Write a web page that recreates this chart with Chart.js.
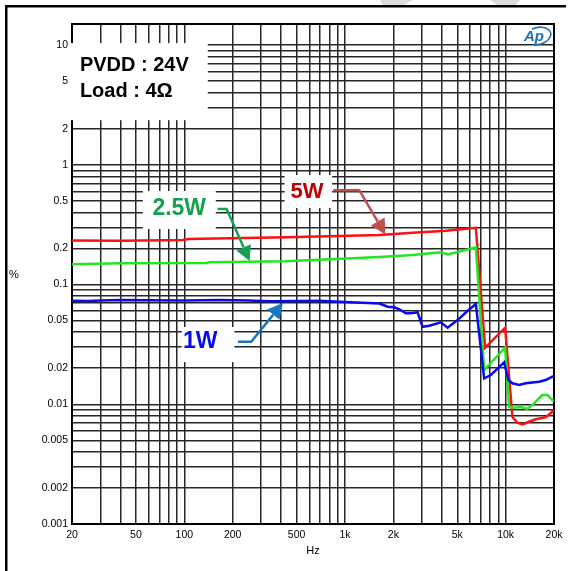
<!DOCTYPE html>
<html>
<head>
<meta charset="utf-8">
<script src="https://cdn.jsdelivr.net/npm/chart.js@4.4.1/dist/chart.umd.min.js"></script>
<style>
    html, body { margin: 0; padding: 0; background: #fff; }
    #wrap { position: relative; width: 568px; height: 571px; }
</style>
</head>
<body>
<div id="wrap"><canvas id="thdChart" width="568" height="571"></canvas></div>
<script>
// THD+N (%) vs frequency (Hz)
const freq1W = [20, 25, 30, 40, 60, 100, 166, 250, 340, 500, 694, 1000, 1637, 1844, 2029, 2180, 2398, 2577, 2832, 3041, 3346, 3956, 4350, 5017, 5787, 6528, 7350, 8090, 9784, 10400, 11015, 12124, 13344, 16137, 17763, 19518, 20000];
const thd1W = [0.0732, 0.0728, 0.0736, 0.0742, 0.0738, 0.0737, 0.0742, 0.0736, 0.0724, 0.0730, 0.0732, 0.0715, 0.0694, 0.0653, 0.0645, 0.0621, 0.0575, 0.0575, 0.0586, 0.0444, 0.0453, 0.0483, 0.0436, 0.0505, 0.0601, 0.0687, 0.01647, 0.01755, 0.0224, 0.01594, 0.01496, 0.01448, 0.01496, 0.01543, 0.01594, 0.01699, 0.0172];

const freq2W5 = [20, 40, 137, 144, 431, 1637, 2636, 3956, 4350, 6528, 7350, 9929, 10508, 11288, 12424, 13656, 15026, 16918, 18176, 19518, 20000];
const thd2W5 = [0.1475, 0.1503, 0.1512, 0.1532, 0.1562, 0.1697, 0.1763, 0.1857, 0.1787, 0.2045, 0.01932, 0.02967, 0.00954, 0.00936, 0.00949, 0.00913, 0.01018, 0.01195, 0.01195, 0.01085, 0.0106];

const freq5W = [20, 40, 98, 106, 431, 1637, 2636, 4250, 6528, 7453, 9929, 11015, 11832, 12710, 13990, 15394, 17763, 19518, 20000];
const thd5W = [0.233, 0.232, 0.2353, 0.2399, 0.2479, 0.259, 0.2707, 0.2813, 0.298, 0.02967, 0.0436, 0.00787, 0.00701, 0.0068, 0.00715, 0.00749, 0.00778, 0.00866, 0.0089];

const xLabelVals = [20, 50, 100, 200, 500, 1000, 2000, 5000, 10000, 20000];
const xLabelText = ['20', '50', '100', '200', '500', '1k', '2k', '5k', '10k', '20k'];
const yLabelVals = [0.001, 0.002, 0.005, 0.01, 0.02, 0.05, 0.1, 0.2, 0.5, 1, 2, 5, 10];
const yLabelText = ['0.001', '0.002', '0.005', '0.01', '0.02', '0.05', '0.1', '0.2', '0.5', '1', '2', '5', '10'];

// grid lines on every 1..9 step of each decade
const xGrid = [];
for (let e = 1; e <= 3; e++) {
    for (let m = (e === 1 ? 2 : 1); m <= 9; m++) xGrid.push(m * Math.pow(10, e));
}
xGrid.push(10000, 20000);
const yGrid = [];
for (let e = -3; e <= 0; e++) {
    for (let m = 1; m <= 9; m++) yGrid.push(+(m * Math.pow(10, e)).toPrecision(6));
}
yGrid.push(10);

const FONT = '"Liberation Sans", Arial, sans-serif';

// label boxes, texts and arrows (data coordinates: Hz, %)
const notes = [
    { box: [19.7, 140, 10.4, 2.36], color: '#000', align: 'left', size: 20,
      texts: [['PVDD : 24V', 22.4, 6.10], ['Load : 4Ω', 22.4, 3.70]] },
    { box: [55.2, 157, 0.604, 0.291], color: '#14a050', align: 'center', size: 23,
      texts: [['2.5W', 93, 0.380]] },
    { box: [421, 832, 0.821, 0.435], color: '#c00000', align: 'center', size: 22,
      texts: [['5W', 580, 0.527]] },
    { box: [96.4, 205, 0.0442, 0.0225], color: '#0a0aee', align: 'center', size: 23,
      texts: [['1W', 125.7, 0.0293]] }
];
const arrows = [
    { color: '#14a050', pts: [[161.4, 0.427], [183.5, 0.427], [255, 0.157]] },
    { color: '#c0504d', pts: [[845, 0.612], [1230, 0.612], [1784, 0.262]] },
    { color: '#1c75bc', pts: [[216, 0.0333], [261, 0.0333], [410, 0.0701]] }
];

function toPoints(xs, ys) {
    return xs.map((x, i) => ({ x: x, y: ys[i] }));
}

function pix(chart, f, v) {
    return [chart.scales.x.getPixelForValue(f), chart.scales.y.getPixelForValue(v)];
}

function drawArrow(ctx, pts, color) {
    const n = pts.length;
    const [tx, ty] = pts[n - 1];
    const [sx, sy] = pts[n - 2];
    const ang = Math.atan2(ty - sy, tx - sx);
    const head = 15, half = 8;
    const bx = tx - head * Math.cos(ang), by = ty - head * Math.sin(ang);
    ctx.save();
    ctx.strokeStyle = color;
    ctx.fillStyle = color;
    ctx.lineWidth = 2.5;
    ctx.lineJoin = 'round';
    ctx.beginPath();
    ctx.moveTo(pts[0][0], pts[0][1]);
    for (let i = 1; i < n - 1; i++) ctx.lineTo(pts[i][0], pts[i][1]);
    ctx.lineTo(bx, by);
    ctx.stroke();
    ctx.beginPath();
    ctx.moveTo(tx, ty);
    ctx.lineTo(bx + half * Math.sin(ang), by - half * Math.cos(ang));
    ctx.lineTo(bx - half * Math.sin(ang), by + half * Math.cos(ang));
    ctx.closePath();
    ctx.fill();
    ctx.restore();
}

const decorPlugin = {
    id: 'decor',
    beforeDatasetsDraw(chart) {
        const { ctx, chartArea: a } = chart;
        ctx.save();
        ctx.strokeStyle = '#000';
        ctx.lineWidth = 2;
        ctx.strokeRect(a.left, a.top, a.right - a.left, a.bottom - a.top);
        ctx.restore();
    },
    afterDatasetsDraw(chart) {
        const ctx = chart.ctx;
        notes.forEach(n => {
            const [x1, y1] = pix(chart, n.box[0], n.box[2]);
            const [x2, y2] = pix(chart, n.box[1], n.box[3]);
            ctx.fillStyle = '#fff';
            ctx.fillRect(x1, y1, x2 - x1, y2 - y1);
            ctx.fillStyle = n.color;
            ctx.font = 'bold ' + n.size + 'px ' + FONT;
            ctx.textAlign = n.align;
            ctx.textBaseline = 'alphabetic';
            n.texts.forEach(t => {
                const [tx, ty] = pix(chart, t[1], t[2]);
                ctx.fillText(t[0], tx, ty);
            });
        });
        arrows.forEach(ar => {
            drawArrow(ctx, ar.pts.map(p => pix(chart, p[0], p[1])), ar.color);
        });
    },
    afterDraw(chart) {
        const { ctx, chartArea: a } = chart;
        ctx.save();
        // axis names
        ctx.fillStyle = '#000';
        ctx.font = '11px ' + FONT;
        ctx.textAlign = 'center';
        ctx.textBaseline = 'middle';
        ctx.fillText('%', 14, (a.top + a.bottom) / 2 + 1);
        ctx.fillText('Hz', (a.left + a.right) / 2, 551);

        // faint watermark pieces at the top edge
        ctx.fillStyle = '#dcdcdc';
        ctx.beginPath();
        ctx.moveTo(380, 0); ctx.lineTo(413, 0); ctx.lineTo(403, 6); ctx.lineTo(383, 6);
        ctx.closePath(); ctx.fill();
        ctx.beginPath();
        ctx.moveTo(490, 0); ctx.lineTo(520, 0); ctx.lineTo(514, 6); ctx.lineTo(498, 6);
        ctx.closePath(); ctx.fill();

        // outer frame (top and left)
        ctx.fillStyle = '#000';
        ctx.fillRect(5, 5, 561, 2.5);
        ctx.fillRect(5, 5, 2.5, 566);

        // Ap logo
        ctx.fillStyle = '#1f6fb2';
        ctx.strokeStyle = '#1f6fb2';
        ctx.font = 'italic bold 15px ' + FONT;
        ctx.textAlign = 'left';
        ctx.textBaseline = 'alphabetic';
        ctx.fillText('Ap', 524, 41);
        ctx.lineWidth = 1.6;
        ctx.beginPath();
        ctx.ellipse(538, 36, 13, 8.5, -0.25, -1.9, 2.1);
        ctx.stroke();
        ctx.restore();
    }
};

const ctx = document.getElementById('thdChart').getContext('2d');
const thdChart = new Chart(ctx, {
    type: 'line',
    data: {
        datasets: [
            { label: '1W', data: toPoints(freq1W, thd1W), borderColor: '#0a0aee', borderWidth: 2.5 },
            { label: '2.5W', data: toPoints(freq2W5, thd2W5), borderColor: '#22e622', borderWidth: 2.5 },
            { label: '5W', data: toPoints(freq5W, thd5W), borderColor: '#ff1010', borderWidth: 2.5 }
        ]
    },
    options: {
        responsive: false,
        animation: false,
        devicePixelRatio: 1,
        layout: { padding: { left: 0, right: 14, top: 24, bottom: 0 } },
        elements: {
            point: { radius: 0 },
            line: { tension: 0, fill: false }
        },
        plugins: {
            legend: { display: false },
            tooltip: { enabled: false }
        },
        scales: {
            x: {
                type: 'logarithmic',
                min: 20,
                max: 20000,
                afterBuildTicks: scale => { scale.ticks = xGrid.map(v => ({ value: v })); },
                afterFit: scale => { scale.height = 47; },
                border: { display: false },
                grid: { color: '#262626', lineWidth: 1.5, drawTicks: false },
                ticks: {
                    autoSkip: false,
                    maxRotation: 0,
                    padding: 5,
                    color: '#000',
                    font: { family: FONT, size: 10.5 },
                    callback: value => {
                        const i = xLabelVals.indexOf(value);
                        return i >= 0 ? xLabelText[i] : '';
                    }
                }
            },
            y: {
                type: 'logarithmic',
                min: 0.001,
                max: 15,
                afterBuildTicks: scale => { scale.ticks = yGrid.map(v => ({ value: v })); },
                afterFit: scale => { scale.width = 72; },
                border: { display: false },
                grid: { color: '#262626', lineWidth: 1.5, drawTicks: false },
                ticks: {
                    autoSkip: false,
                    padding: 4,
                    color: '#000',
                    font: { family: FONT, size: 10.5 },
                    callback: value => {
                        const i = yLabelVals.findIndex(t => Math.abs(t - value) < t * 1e-6);
                        return i >= 0 ? yLabelText[i] : '';
                    }
                }
            }
        }
    },
    plugins: [decorPlugin]
});
</script>
</body>
</html>
